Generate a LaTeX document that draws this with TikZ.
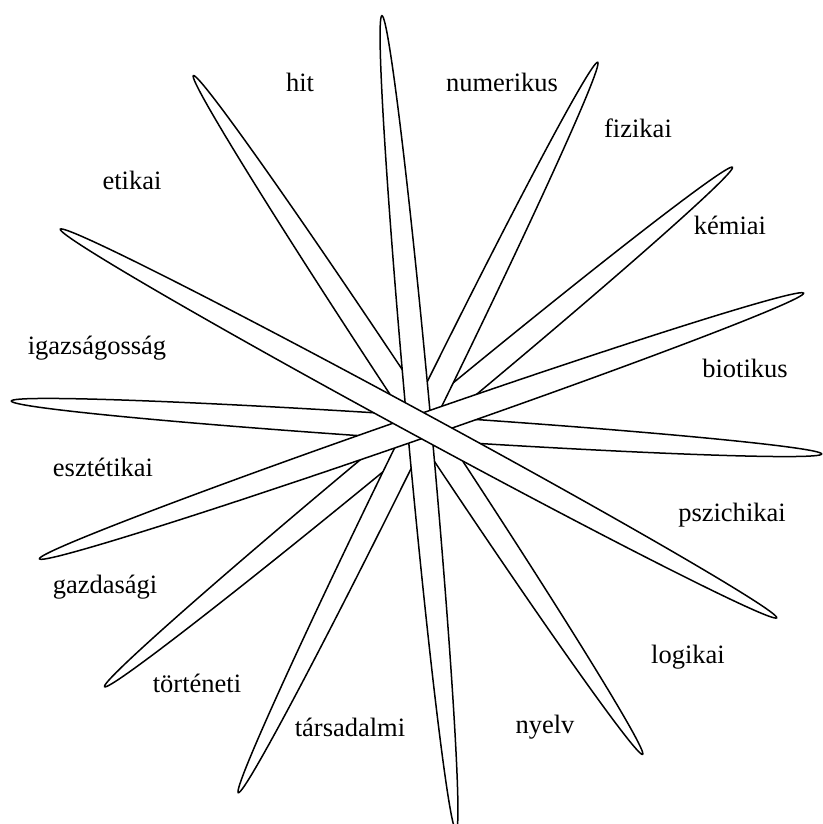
\documentclass[tikz,border=0pt]{standalone}
\usepackage{fontspec}
\setmainfont{Liberation Serif}
\begin{document}
\begin{tikzpicture}[x=1pt,y=-1pt,
  petal/.style={draw=black,fill=white,line width=1.5pt},
  lbl/.style={font=\fontsize{26.5}{31}\selectfont,inner sep=0pt}]
\useasboundingbox (0,0) rectangle (822,824);
% petals, bottom to top
\draw[petal,shift={(416.5,427.5)},rotate=-3.74] (0,0) ellipse [x radius=406pt,y radius=12pt];
\draw[petal,shift={(418.5,427)},rotate=39.6] (0,0) ellipse [x radius=407.5pt,y radius=12pt];
\draw[petal,shift={(418,427.5)},rotate=63.8] (0,0) ellipse [x radius=407pt,y radius=12pt];
\draw[petal,shift={(418,415)},rotate=123.5] (0,0) ellipse [x radius=407pt,y radius=12pt];
\draw[petal,shift={(419,423)},rotate=95.2] (0,0) ellipse [x radius=409pt,y radius=12pt];
\draw[petal,shift={(421.5,426)},rotate=19.17] (0,0) ellipse [x radius=404.5pt,y radius=12pt];
\draw[petal,shift={(418.5,423.5)},rotate=-28.48] (0,0) ellipse [x radius=407.5pt,y radius=12pt];
% labels
\node[lbl] (hit) at (300,82) {hit};
\node[lbl] (num) at (502,82) {numerikus};
\node[lbl] (fiz) at (638,128) {fizikai};
\node[lbl] (kem) at (730,225) {kémiai};
\node[lbl] (bio) at (745,368) {biotikus};
\node[lbl] (psz) at (732,515) {pszichikai};
\node[lbl] (log) at (688,657) {logikai};
\node[lbl] (nye) at (545,727) {nyelv};
\node[lbl] (tar) at (350,727) {társadalmi};
\node[lbl] (tor) at (197,683) {történeti};
\node[lbl] (gaz) at (105,587) {gazdasági};
\node[lbl] (esz) at (103,467) {esztétikai};
\node[lbl] (iga) at (97,348) {igazságosság};
\node[lbl] (eti) at (132,180) {etikai};
\end{tikzpicture}
\end{document}
